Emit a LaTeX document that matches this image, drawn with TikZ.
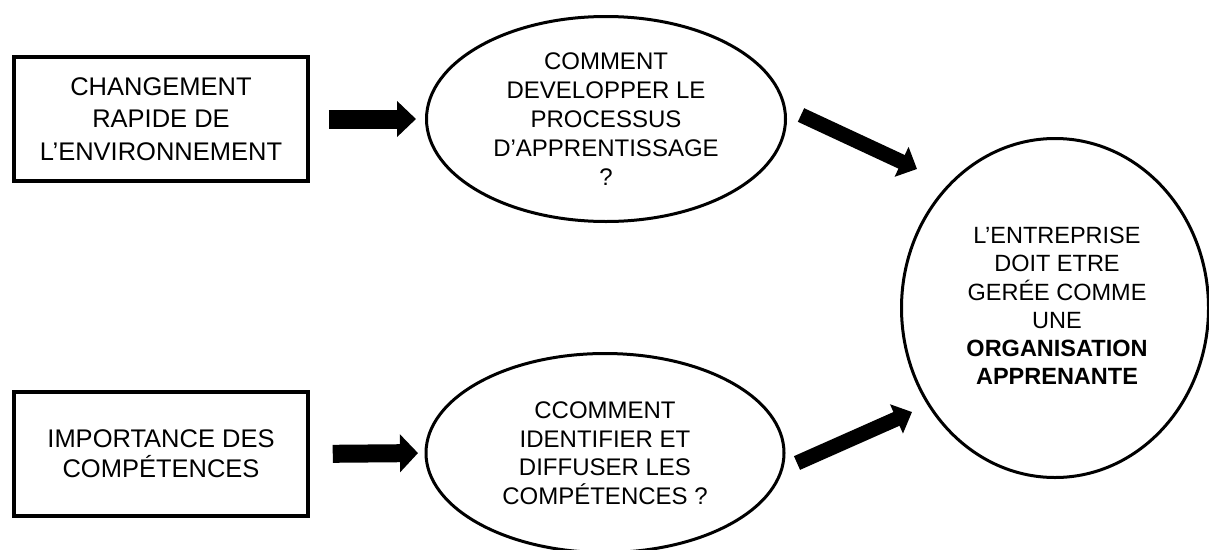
\documentclass[tikz,border=0pt]{standalone}
\usepackage{fontspec}
\setmainfont{Liberation Sans}
\usetikzlibrary{arrows.meta,shapes.geometric,calc}

\begin{document}
\begin{tikzpicture}[x=1pt,y=-1pt,
    boxnode/.style={draw,line width=3.5pt,minimum width=294pt,minimum height=124pt},
    bubble/.style={draw,ellipse,line width=3pt,inner sep=0pt},
    txt/.style={align=center,inner sep=0pt},
    fat/.style n args={3}{line width=#1,-{Triangle[width=#2,length=#3]}}]
\useasboundingbox (0,0) rectangle (1209,549);
\begin{scope}
    % causes
    \node[boxnode,txt,font=\fontsize{25.5}{32.5}\selectfont] (chg) at (161,119)
        {CHANGEMENT\\RAPIDE DE\\L’ENVIRONNEMENT};
    \node[boxnode,txt,font=\fontsize{25.5}{30}\selectfont] (imp) at (161,454)
        {IMPORTANCE DES\\COMPÉTENCES};

    % questions
    \node[bubble,minimum width=359pt,minimum height=205pt] (dev) at (606,119) {};
    \node[txt,font=\fontsize{24}{29}\selectfont] (devtxt) at (dev)
        {COMMENT\\DEVELOPPER LE\\PROCESSUS\\D’APPRENTISSAGE\\?};

    \node[bubble,minimum width=358pt,minimum height=199pt] (idf) at (605,453) {};
    \node[txt,font=\fontsize{24}{28.5}\selectfont] (idftxt) at (idf)
        {CCOMMENT\\IDENTIFIER ET\\DIFFUSER LES\\COMPÉTENCES ?};

    % conclusion
    \node[bubble,minimum width=307pt,minimum height=339pt] (org) at (1055,308) {};
    \node[txt,font=\fontsize{23.5}{28.3}\selectfont] (orgtxt) at (1057,306)
        {L’ENTREPRISE\\DOIT ETRE\\GERÉE COMME\\UNE\\\textbf{ORGANISATION}\\\textbf{APPRENANTE}};

    \coordinate (d1) at ($(dev.east)+(14,-4)$);
    \coordinate (d2) at ($(org.west)+(17,-139)$);
    \coordinate (i1) at ($(idf.east)+(11.5,10)$);
    \coordinate (i2) at ($(org.west)+(12,104)$);

    \draw[fat={19pt}{35pt}{19pt},shorten <=19pt,shorten >=9pt] (chg.east) -- (dev.west);
    \draw[fat={18pt}{37pt}{18pt},shorten <=23pt,shorten >=6.5pt] (imp.east) -- (idf.west);
    \draw[fat={15pt}{32pt}{17pt}] (d1) -- (d2);
    \draw[fat={15pt}{31pt}{17pt}] (i1) -- (i2);
\end{scope}
\end{tikzpicture}
\end{document}
